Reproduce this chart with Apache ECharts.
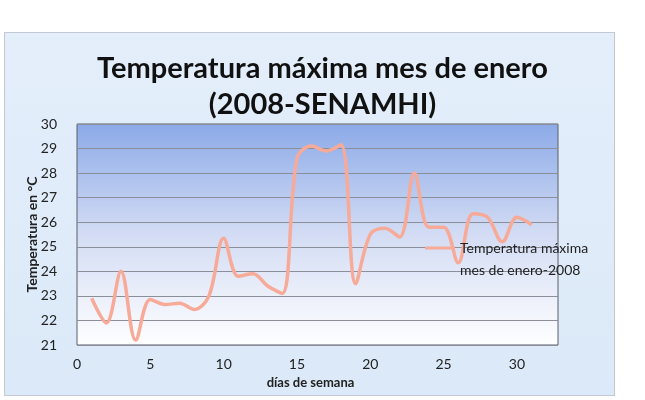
<!DOCTYPE html>
<html>
<head>
<meta charset="utf-8">
<script src="https://cdn.jsdelivr.net/npm/echarts@6/dist/echarts.min.js"></script>
<style>
  html, body { margin: 0; padding: 0; background: #fff; }
  #box {
    position: absolute; left: 4px; top: 32px; width: 609px; height: 362px;
    border: 1px solid #c4c8d2;
    background: linear-gradient(180deg, #e4eefb 0%, #dbe9f8 100%);
  }
  #chart { position: absolute; left: 0; top: 0; width: 645px; height: 400px; }
</style>
</head>
<body>
<div id="box"></div>
<div id="chart"></div>
<script>
// días del mes de enero
var dias = [1, 2, 3, 4, 5, 6, 7, 8, 9, 10, 11, 12, 13, 14, 15, 16,
            17, 18, 19, 20, 21, 22, 23, 24, 25, 26, 27, 28, 29, 30, 31];
// temperatura máxima (°C)
var tempMax = [22.9, 21.9, 24.0, 21.2, 22.85, 22.65, 22.7, 22.45, 23.0, 25.35, 23.8, 23.9, 23.4, 23.1, 28.6, 29.1,
               28.9, 29.15, 23.5, 25.5, 25.75, 25.4, 28.0, 25.8, 25.8, 24.35, 26.35, 26.2, 25.2, 26.2, 25.9];
var xTicks = [0, 5, 10, 15, 20, 25, 30];
var yTicks = [21, 22, 23, 24, 25, 26, 27, 28, 29, 30];

var puntos = dias.map(function (d, i) { return [d, tempMax[i]]; });

var chart = echarts.init(document.getElementById('chart'));
chart.setOption({
  animation: false,
  title: {
    text: 'Temperatura máxima mes de enero\n(2008-SENAMHI)',
    left: 'center',
    top: 46,
    textStyle: {
      fontFamily: 'Lato',
      fontWeight: 'bold',
      fontSize: 29,
      lineHeight: 36,
      color: '#111'
    }
  },
  legend: {
    left: 420,
    top: 232,
    // línea arriba de una caja alta, para que quede a la altura del primer renglón
    icon: 'path://M0,0H30V3H0Z M0,25H0.01V25.01H0Z',
    itemWidth: 30,
    itemHeight: 25,
    itemGap: 4,
    itemStyle: { borderWidth: 0 },
    formatter: function () { return 'Temperatura máxima\nmes de enero-2008'; },
    textStyle: { fontFamily: 'Lato', fontSize: 14, lineHeight: 22, color: '#222' }
  },
  grid: {
    left: 77,
    right: 87,
    top: 124,
    bottom: 55,
    show: true,
    borderColor: '#5a5e68',
    borderWidth: 1,
    backgroundColor: {
      type: 'linear', x: 0, y: 0, x2: 0, y2: 1,
      colorStops: [
        { offset: 0, color: '#8caae8' },
        { offset: 0.5, color: '#d3dcf4' },
        { offset: 1, color: '#ffffff' }
      ]
    }
  },
  xAxis: {
    type: 'value',
    min: 0,
    max: 32.8,
    interval: 5,
    name: 'días de semana',
    nameLocation: 'middle',
    nameGap: 30,
    nameTextStyle: { fontFamily: 'Lato', fontWeight: 'bold', fontSize: 13, color: '#222', padding: [0, 14, 0, 0] },
    axisLine: { show: false },
    axisTick: { show: false },
    splitLine: { show: false },
    axisLabel: {
      fontFamily: 'Lato', fontSize: 14, color: '#222', margin: 12,
      formatter: function (v) { return xTicks.indexOf(v) >= 0 ? String(v) : ''; }
    }
  },
  yAxis: {
    type: 'value',
    min: yTicks[0],
    max: yTicks[yTicks.length - 1],
    interval: 1,
    name: 'Temperatura en °C',
    nameLocation: 'middle',
    nameGap: 38,
    nameMoveOverlap: false,
    nameTextStyle: { fontFamily: 'Lato', fontWeight: 'bold', fontSize: 14, color: '#222' },
    axisLine: { show: false },
    axisTick: { show: false },
    axisLabel: { fontFamily: 'Lato', fontSize: 14, color: '#222', margin: 20 },
    splitLine: { lineStyle: { color: '#8a8f9a', width: 1 } }
  },
  series: [{
    name: 'Temperatura máxima mes de enero-2008',
    type: 'line',
    data: puntos,
    smooth: 0.35,
    showSymbol: false,
    symbol: 'none',
    lineStyle: { color: '#f7aa98', width: 3.5 },
    itemStyle: { color: '#f7aa98' }
  }]
});
</script>
</body>
</html>
